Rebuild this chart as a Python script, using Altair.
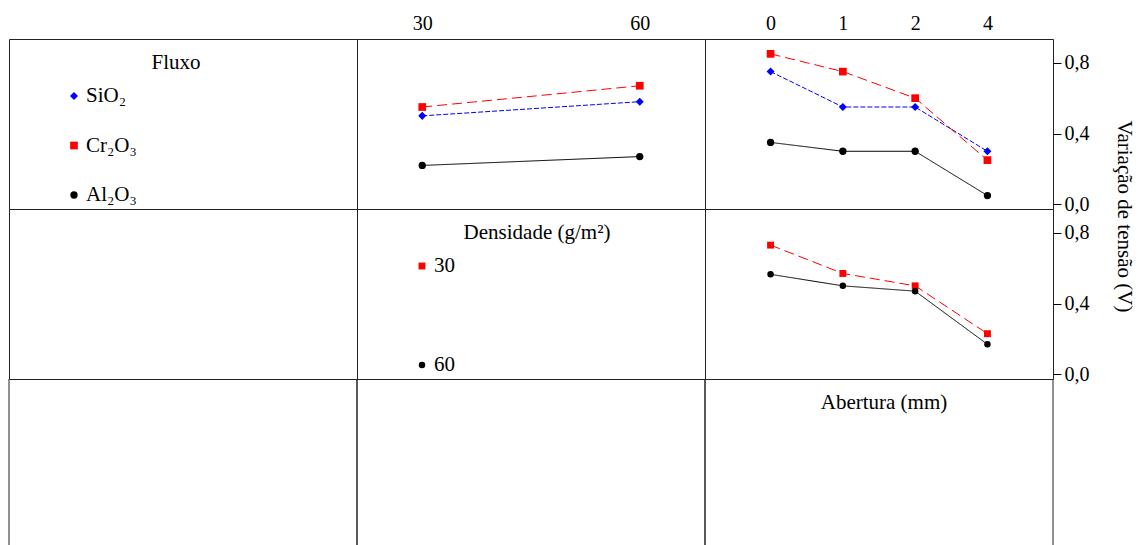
import altair as alt
import pandas as pd

FONT = "Liberation Serif"
FS_TICK = 20
FS_TEXT = 21

# ---------------- data ----------------
fluxos = ["SiO₂", "Cr₂O₃", "Al₂O₃"]
densidades = ["30", "60"]
aberturas = ["0", "1", "2", "4"]

# Fluxo x Densidade (mean voltage variation)
fd_sio2 = [0.50, 0.58]
fd_cr2o3 = [0.55, 0.67]
fd_al2o3 = [0.22, 0.27]

# Fluxo x Abertura
fa_sio2 = [0.75, 0.55, 0.55, 0.30]
fa_cr2o3 = [0.85, 0.75, 0.60, 0.25]
fa_al2o3 = [0.35, 0.30, 0.30, 0.05]

# Densidade x Abertura
da_30 = [0.73, 0.57, 0.50, 0.23]
da_60 = [0.565, 0.50, 0.47, 0.17]

y_ticks = [0.0, 0.4, 0.8]

# series styling (shared scales)
series = ["SiO₂", "Cr₂O₃", "Al₂O₃", "30", "60"]
series_colors = ["#0000ff", "#ff0000", "#000000", "#ff0000", "#000000"]
series_shapes = ["diamond", "square", "circle", "square", "circle"]
series_dash = [[5, 2], [10, 5], [1, 0], [10, 5], [1, 0]]
series_size = [65, 42, 80, 42, 80]

W, H, H3 = 348, 170, 166


def long_table(groups, xs, value_lists):
    rows = []
    for g, vals in zip(groups, value_lists):
        for xv, v in zip(xs, vals):
            rows.append({"serie": g, "x": xv, "valor": v})
    return pd.DataFrame(rows)


df_fd = long_table(fluxos, densidades, [fd_sio2, fd_cr2o3, fd_al2o3])
df_fa = long_table(fluxos, aberturas, [fa_sio2, fa_cr2o3, fa_al2o3])
df_da = long_table(densidades, aberturas, [da_30, da_60])

color_enc = alt.Color("serie:N", scale=alt.Scale(domain=series, range=series_colors), legend=None)
shape_enc = alt.Shape("serie:N", scale=alt.Scale(domain=series, range=series_shapes), legend=None)
dash_enc = alt.StrokeDash("serie:N", scale=alt.Scale(domain=series, range=series_dash), legend=None)
size_enc = alt.Size("serie:N", scale=alt.Scale(domain=series, range=series_size), legend=None)

y_scale = alt.Scale(domain=[-0.026, 0.934], nice=False, zero=False)


def top_axis():
    return alt.Axis(orient="top", title=None, ticks=False, tickSize=0, domain=False, grid=False,
                    labelAngle=0, labelPadding=10, labelBaseline="alphabetic",
                    labelFont=FONT, labelFontSize=FS_TICK, labelColor="black")


def right_axis(with_title):
    kw = dict(orient="right", values=y_ticks, domain=False, grid=False, ticks=True, tickSize=8,
              tickColor="black", tickWidth=1, labelPadding=3, labelFont=FONT, labelFontSize=FS_TICK,
              labelColor="black",
              labelExpr="replace(format(datum.value, '.1f'), '.', ',')")
    if with_title:
        kw.update(title="Variação de tensão (V)", titleFont=FONT, titleFontSize=FS_TEXT,
                  titleFontWeight="normal", titleColor="black", titleAngle=90,
                  titleX=70, titleY=177, titleAlign="center", titleBaseline="middle")
    else:
        kw.update(title=None)
    return alt.Axis(**kw)


def interaction_panel(df, xlabels, xpad, show_top, show_right, right_title=False):
    x = alt.X("x:O", sort=xlabels,
              scale=alt.Scale(type="point", domain=xlabels, padding=xpad),
              axis=top_axis() if show_top else None)
    y = alt.Y("valor:Q", scale=y_scale,
              axis=right_axis(right_title) if show_right else None)
    base = alt.Chart(df)
    lines = base.mark_line(strokeWidth=1).encode(x=x, y=y, color=color_enc, strokeDash=dash_enc,
                                                 detail="serie:N")
    pts = base.mark_point(filled=True, opacity=1, strokeWidth=0).encode(
        x=x, y=y, color=color_enc, shape=shape_enc, size=size_enc)
    return alt.layer(lines, pts).properties(width=W, height=H)


def legend_panel(title, title_x, names):
    leg = pd.DataFrame({"serie": names, "ordem": list(range(len(names)))})
    ly = alt.Y("ordem:Q", scale=alt.Scale(domain=[0, len(names) - 1], range=[57, 156]), axis=None)
    sym = alt.Chart(leg).mark_point(filled=True, opacity=1, strokeWidth=0).encode(
        x=alt.value(65), y=ly, color=color_enc, shape=shape_enc, size=size_enc)
    lab = alt.Chart(leg).mark_text(align="left", baseline="alphabetic", dx=12, dy=6,
                                   font=FONT, fontSize=FS_TEXT, color="black").encode(
        x=alt.value(65), y=ly, text="serie:N")
    ttl = alt.Chart(pd.DataFrame({"t": [title]})).mark_text(
        align="center", baseline="alphabetic", font=FONT, fontSize=FS_TEXT, color="black").encode(
        x=alt.value(title_x), y=alt.value(30), text="t:N")
    return alt.layer(ttl, sym, lab).properties(width=W, height=H)


def empty_panel(h=H):
    return alt.Chart(pd.DataFrame({"v": [0]})).mark_text(text="").encode(
        x=alt.value(0), y=alt.value(0)).properties(width=W, height=h)


def bottom_panel(label=None, label_x=None):
    frame = pd.DataFrame({"v": [0]})
    left = alt.Chart(frame).mark_rule(color="#222222", strokeWidth=1).encode(
        x=alt.value(0), y=alt.value(0), y2=alt.value(H3))
    right = alt.Chart(frame).mark_rule(color="#222222", strokeWidth=1).encode(
        x=alt.value(W), y=alt.value(0), y2=alt.value(H3))
    layers = [left, right]
    if label is not None:
        layers.append(alt.Chart(pd.DataFrame({"t": [label]})).mark_text(
            align="center", baseline="alphabetic", font=FONT, fontSize=FS_TEXT, color="black").encode(
            x=alt.value(label_x), y=alt.value(30), text="t:N"))
    return alt.layer(*layers).properties(width=W, height=H3, view=alt.ViewBackground(strokeOpacity=0))


p11 = legend_panel("Fluxo", 167, fluxos)
p12 = interaction_panel(df_fd, densidades, 0.30, True, False)
p13 = interaction_panel(df_fa, aberturas, 0.907, True, True, right_title=True)
p21 = empty_panel()
p22 = legend_panel("Densidade (g/m²)", 180, densidades)
p23 = interaction_panel(df_da, aberturas, 0.907, False, True)
p31 = bottom_panel()
p32 = bottom_panel()
p33 = bottom_panel("Abertura (mm)", 179)

chart = alt.concat(
    p11, p12, p13, p21, p22, p23, p31, p32, p33,
    columns=3, spacing=0, bounds="flush"
).properties(
    padding={"left": 8, "top": 12, "right": 0, "bottom": 0}
).configure(
    background="white",
    view=alt.ViewConfig(stroke="#222222", strokeWidth=1),
)

chart.save("out.html", embed_options={"renderer": "svg", "actions": False})
